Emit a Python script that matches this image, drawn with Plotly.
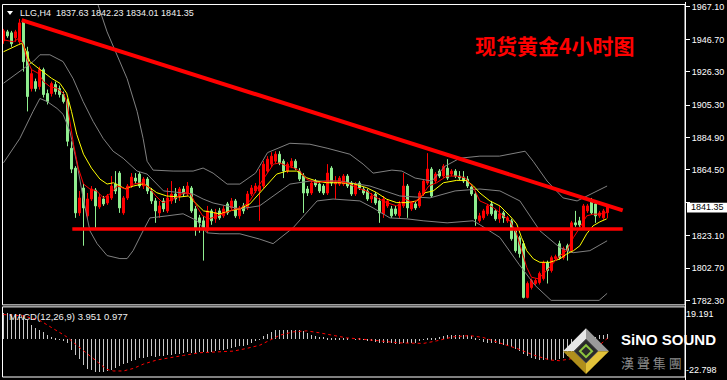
import plotly.graph_objects as go

# ---------------- data ----------------
candle_open = [1945.81, 1951.44, 1950.82, 1947.69, 1945.18, 1957.71, 1938.92, 1915.75, 1920.13, 1917.00,
               1927.65, 1912.62, 1912.62, 1918.25, 1915.75, 1911.99, 1907.61, 1878.18, 1865.66, 1837.47,
               1853.13, 1835.60, 1846.24, 1851.88, 1841.23, 1846.24, 1843.74, 1846.87, 1855.64, 1862.52,
               1837.47, 1846.87, 1854.38, 1859.39, 1861.90, 1854.38, 1858.77, 1851.25, 1844.99, 1837.47,
               1844.99, 1838.73, 1844.99, 1849.37, 1848.12, 1852.50, 1849.37, 1853.13, 1839.98, 1834.34,
               1832.47, 1826.20, 1838.73, 1833.72, 1838.73, 1835.60, 1843.11, 1840.61, 1844.99, 1835.60,
               1841.86, 1840.61, 1849.37, 1851.25, 1851.25, 1854.38, 1863.78, 1868.16, 1870.04, 1874.42,
               1870.04, 1863.78, 1866.91, 1870.04, 1863.78, 1860.65, 1852.50, 1850.00, 1857.51, 1855.64,
               1854.38, 1850.00, 1865.66, 1855.64, 1855.64, 1855.64, 1860.65, 1856.26, 1849.37, 1856.26,
               1852.50, 1851.25, 1846.24, 1849.37, 1844.99, 1836.85, 1841.86, 1839.98, 1839.98, 1835.60,
               1841.86, 1854.38, 1839.98, 1843.11, 1841.86, 1849.37, 1856.26, 1865.03, 1857.51, 1863.78,
               1860.65, 1865.66, 1861.90, 1863.78, 1860.65, 1860.02, 1858.77, 1853.76, 1849.37, 1832.47,
               1834.34, 1836.85, 1843.11, 1838.73, 1833.72, 1837.47, 1832.47, 1832.47, 1826.20, 1821.82,
               1818.06, 1784.24, 1790.51, 1793.01, 1793.64, 1796.15, 1806.17, 1801.16, 1808.67, 1818.06,
               1809.30, 1816.81, 1813.68, 1831.21, 1832.47, 1828.08, 1838.73, 1844.99, 1843.11, 1835.60,
               1834.34, 1837.63]
candle_high = [1953.32, 1952.70, 1952.07, 1952.70, 1959.58, 1958.96, 1942.05, 1928.27, 1922.01, 1929.53,
               1928.90, 1915.12, 1920.13, 1920.13, 1917.63, 1913.87, 1909.49, 1882.56, 1866.91, 1851.25,
               1855.64, 1850.00, 1854.38, 1853.13, 1849.37, 1848.12, 1849.37, 1860.65, 1863.78, 1863.78,
               1848.12, 1855.64, 1862.52, 1862.52, 1863.15, 1860.02, 1860.02, 1853.13, 1846.87, 1844.99,
               1846.87, 1853.13, 1857.51, 1853.13, 1853.76, 1854.38, 1856.89, 1854.38, 1841.86, 1836.22,
               1835.60, 1841.86, 1839.98, 1839.98, 1840.61, 1841.86, 1844.36, 1846.87, 1846.24, 1841.86,
               1843.74, 1851.25, 1855.01, 1856.26, 1865.03, 1870.04, 1873.17, 1875.67, 1876.30, 1876.30,
               1871.29, 1869.41, 1871.92, 1871.29, 1865.66, 1862.52, 1854.38, 1857.51, 1858.77, 1856.89,
               1855.64, 1868.16, 1866.91, 1860.65, 1860.65, 1861.90, 1861.90, 1857.51, 1856.89, 1857.51,
               1853.76, 1852.50, 1850.00, 1850.62, 1846.87, 1848.12, 1846.24, 1841.86, 1841.86, 1844.99,
               1862.52, 1855.64, 1844.99, 1844.36, 1851.25, 1858.77, 1875.05, 1866.28, 1863.15, 1865.03,
               1868.16, 1871.29, 1865.03, 1865.03, 1863.78, 1863.78, 1860.65, 1855.01, 1851.25, 1837.47,
               1839.98, 1843.11, 1844.99, 1839.98, 1841.86, 1838.73, 1835.60, 1833.72, 1827.46, 1823.07,
               1819.94, 1794.27, 1796.15, 1796.15, 1800.53, 1807.42, 1807.42, 1810.55, 1811.17, 1819.94,
               1816.18, 1818.06, 1832.47, 1838.73, 1834.97, 1843.11, 1843.11, 1846.87, 1844.99, 1838.73,
               1839.98, 1842.23]
candle_low = [1943.93, 1947.69, 1942.05, 1945.18, 1943.93, 1926.40, 1901.35, 1913.87, 1913.87, 1915.12,
              1910.11, 1905.73, 1910.74, 1911.99, 1910.11, 1906.36, 1879.43, 1862.52, 1834.34, 1835.60,
              1816.81, 1833.72, 1844.99, 1828.08, 1839.98, 1841.86, 1842.48, 1845.61, 1849.37, 1837.47,
              1836.22, 1845.61, 1853.13, 1855.64, 1853.13, 1852.50, 1849.37, 1843.11, 1831.21, 1834.34,
              1838.10, 1837.47, 1843.11, 1843.74, 1844.99, 1847.49, 1848.12, 1837.47, 1823.07, 1824.95,
              1807.42, 1824.95, 1829.96, 1831.21, 1833.09, 1834.34, 1836.22, 1839.35, 1834.34, 1833.72,
              1836.85, 1839.35, 1848.12, 1850.00, 1832.47, 1853.13, 1862.52, 1866.28, 1868.79, 1867.53,
              1859.39, 1862.52, 1865.66, 1864.40, 1857.51, 1837.47, 1848.12, 1848.75, 1853.76, 1850.00,
              1848.75, 1848.75, 1854.38, 1846.24, 1854.38, 1854.38, 1853.13, 1848.12, 1848.12, 1851.88,
              1848.75, 1844.99, 1843.74, 1842.48, 1831.21, 1834.34, 1840.61, 1834.34, 1835.60, 1833.72,
              1840.61, 1834.34, 1838.73, 1839.35, 1840.61, 1848.12, 1855.01, 1846.87, 1856.26, 1859.39,
              1859.39, 1858.14, 1860.65, 1859.39, 1858.14, 1856.26, 1853.13, 1848.12, 1829.33, 1831.21,
              1833.09, 1835.60, 1835.60, 1832.47, 1831.21, 1831.21, 1831.21, 1819.94, 1812.43, 1809.30,
              1783.62, 1783.62, 1789.26, 1791.76, 1792.39, 1794.89, 1793.01, 1799.90, 1807.42, 1808.04,
              1808.04, 1807.42, 1812.43, 1828.71, 1828.71, 1826.83, 1837.47, 1836.22, 1831.21, 1834.34,
              1833.09, 1834.01]
candle_close = [1952.07, 1948.94, 1943.93, 1951.44, 1957.08, 1932.66, 1910.74, 1925.14, 1915.75, 1927.65,
                1911.99, 1907.61, 1918.88, 1913.87, 1911.99, 1907.61, 1882.56, 1865.03, 1837.47, 1846.87,
                1840.61, 1846.24, 1852.50, 1841.86, 1847.49, 1843.11, 1848.12, 1854.38, 1851.25, 1840.61,
                1846.87, 1854.38, 1860.02, 1857.51, 1854.38, 1858.77, 1851.25, 1844.99, 1838.73, 1841.86,
                1839.98, 1846.87, 1849.37, 1846.24, 1852.50, 1849.37, 1854.38, 1838.73, 1828.08, 1831.21,
                1828.08, 1838.73, 1832.47, 1837.47, 1834.34, 1839.98, 1837.47, 1844.99, 1835.60, 1840.61,
                1838.73, 1849.37, 1853.13, 1854.38, 1854.38, 1868.16, 1871.29, 1873.17, 1874.42, 1868.79,
                1863.78, 1868.16, 1870.04, 1865.66, 1858.77, 1850.00, 1850.00, 1856.26, 1855.01, 1851.25,
                1850.00, 1862.52, 1856.26, 1856.89, 1859.39, 1860.65, 1854.38, 1849.37, 1855.64, 1853.13,
                1850.00, 1846.24, 1848.12, 1843.74, 1837.47, 1846.24, 1844.99, 1835.60, 1836.85, 1843.11,
                1854.38, 1840.61, 1843.74, 1840.61, 1850.00, 1857.51, 1865.03, 1848.12, 1861.90, 1860.65,
                1866.91, 1859.39, 1863.78, 1860.65, 1859.39, 1857.51, 1854.38, 1849.37, 1833.72, 1835.60,
                1838.73, 1841.86, 1836.85, 1833.72, 1836.85, 1834.34, 1834.34, 1821.19, 1813.68, 1811.80,
                1784.24, 1793.01, 1794.89, 1794.89, 1799.28, 1806.17, 1801.16, 1809.30, 1809.92, 1809.30,
                1814.93, 1813.68, 1831.21, 1829.96, 1829.96, 1841.86, 1841.86, 1837.47, 1835.60, 1837.47,
                1838.73, 1841.35]
candle_idx = list(range(len(candle_open)))

# fast moving average (red thin line), sampled along the bars
ma_fast_x = [0, 2.5, 4, 5, 5.8, 7, 8.7, 10, 11.6, 13.3, 15, 15.8, 16.6, 17.5, 18.7, 20, 21.6, 23.3, 25,
             26.6, 28.5, 30.5, 32.6, 34.7, 36.4, 38.1, 39.8, 41.4, 43.1, 45.1, 46.8, 48.5, 49.8, 51.4,
             53.5, 55.6, 58, 59.1, 61.6, 64.1, 65.8, 67.5, 69.1, 70.8, 72.5, 74.1, 75.8, 78.3, 80.8,
             83.3, 85.8, 88.3, 90.8, 93.3, 95.8, 98.3, 100.4, 102.5, 104.6, 106.3, 108.3, 110.8, 113.3,
             115.4, 117.5, 119.1, 120.8, 122.5, 125, 126.6, 128.3, 129.5, 130.8, 132, 133.7, 135.8,
             137.5, 139.1, 140.8, 142.5, 144.1, 145.8, 147.4, 149.1, 150.8]
ma_fast_y = [1946.43, 1945.18, 1947.69, 1943.30, 1934.72, 1927.65, 1925.33, 1920.13, 1917.00, 1915.94,
             1912.81, 1907.61, 1895.09, 1880.68, 1865.66, 1855.64, 1852.50, 1851.25, 1846.87, 1849.37,
             1854.38, 1852.50, 1855.64, 1856.45, 1853.32, 1848.12, 1843.92, 1844.99, 1847.06, 1850.19,
             1849.37, 1840.80, 1835.60, 1833.72, 1835.60, 1837.66, 1839.98, 1839.98, 1844.99, 1855.64,
             1861.90, 1868.16, 1868.97, 1866.91, 1865.84, 1863.78, 1858.58, 1856.45, 1857.51, 1857.51,
             1856.45, 1853.32, 1851.25, 1847.06, 1843.92, 1841.86, 1846.06, 1843.92, 1848.12, 1854.38,
             1856.45, 1860.65, 1860.65, 1859.58, 1853.32, 1844.99, 1843.11, 1840.80, 1835.60, 1832.47,
             1824.32, 1813.68, 1803.22, 1796.96, 1795.96, 1801.16, 1806.36, 1810.55, 1813.68, 1822.01,
             1828.27, 1835.60, 1836.66, 1836.66, 1837.66]

# slow moving average (yellow line)
ma_slow_x = [0, 1.6, 3.7, 4.5, 5.4, 6.6, 8.3, 10, 12, 14.1, 15.8, 17, 18.3, 20, 22, 24.1, 25.9, 27.5,
             30.4, 32.5, 35, 36.6, 38.3, 40.8, 44.1, 46.2, 48.3, 50, 52.5, 54.1, 56.6, 59.1, 61.6, 64.1,
             66.6, 68.3, 70.8, 73.3, 75.8, 78.3, 80.8, 84.1, 87.5, 90.8, 93.3, 95.8, 98.3, 100.8, 103.3,
             105.4, 107.4, 110, 113.3, 115.8, 117.5, 119.1, 121.6, 124.1, 126.6, 128.3, 129.5, 130.8,
             132.5, 134.1, 136.6, 139.1, 140.8, 142.5, 144.1, 145.8, 147.4, 149.1, 150.8]
ma_slow_y = [1938.92, 1940.99, 1943.30, 1944.12, 1940.99, 1932.66, 1929.53, 1926.40, 1922.20, 1919.07,
             1912.81, 1901.35, 1886.94, 1874.42, 1865.66, 1858.77, 1855.64, 1856.45, 1852.69, 1854.38,
             1855.82, 1853.32, 1850.19, 1848.12, 1847.49, 1848.12, 1843.11, 1838.73, 1837.66, 1836.85,
             1838.73, 1839.98, 1843.11, 1850.00, 1857.51, 1861.90, 1863.78, 1863.78, 1859.58, 1857.51,
             1856.45, 1856.45, 1855.82, 1853.32, 1850.19, 1846.06, 1843.92, 1843.92, 1844.99, 1850.19,
             1851.25, 1856.45, 1857.95, 1857.95, 1854.38, 1850.00, 1844.99, 1841.86, 1835.60, 1830.59,
             1822.01, 1813.68, 1808.48, 1806.36, 1806.36, 1808.48, 1811.61, 1813.68, 1816.81, 1824.32,
             1829.33, 1831.84, 1833.72]

# Bollinger bands (grey), sampled
bb_upper_x = [0, 10, 18, 23.4, 25.9, 28.4, 30.9, 33.4, 34.9, 35.9, 37.4, 42.4, 47.4, 49.9, 52.4, 55.9,
              59.1, 63, 66, 71.6, 76.6, 80.9, 86.6, 89.9, 92.4, 97.1, 99.6, 102.9, 107.1, 110.4, 114.1,
              119.1, 124, 130.4, 132.4, 135.9, 139.9, 143.4, 147.4, 150.9]
bb_upper_y = [1973.4, 1982.8, 1985.9, 1970.2, 1951.4, 1937.0, 1922.0, 1901.4, 1884.4, 1870.0, 1864.4,
              1863.8, 1863.8, 1865.7, 1862.5, 1855.6, 1855.6, 1862.5, 1875.4, 1881.3, 1880.7, 1878.2,
              1874.4, 1868.2, 1862.5, 1864.4, 1863.8, 1859.4, 1857.5, 1866.9, 1871.9, 1873.2, 1873.2,
              1876.3, 1870.0, 1857.5, 1846.9, 1845.0, 1850.0, 1854.4]
bb_mid_x = [0, 7.4, 9.1, 11.6, 14.9, 17.4, 19.9, 22.4, 24.9, 27.4, 29.9, 33.4, 35.9, 40, 47.4, 49.9,
            52.4, 55.9, 59.1, 64, 71.6, 76.6, 84.1, 91.6, 99.1, 106.6, 112.9, 119.1, 124.1, 129.1,
            134.1, 139.1, 142.4, 146.6, 150.9]
bb_mid_y = [1919.1, 1932.7, 1937.0, 1937.0, 1932.7, 1922.0, 1907.6, 1895.1, 1884.4, 1876.3, 1871.9,
            1863.8, 1861.9, 1851.3, 1849.4, 1846.2, 1843.7, 1841.9, 1840.0, 1841.9, 1855.6, 1857.5,
            1857.5, 1854.4, 1848.1, 1846.9, 1851.3, 1852.5, 1851.3, 1845.0, 1826.2, 1815.6, 1812.4,
            1813.7, 1819.9]
bb_lower_x = [0, 4.1, 7.4, 9.1, 10.9, 13.4, 14.9, 16.6, 18.4, 19.9, 21.6, 23.4, 25.9, 29.1, 30.9, 32.4,
              34.9, 36.6, 40.9, 44.9, 48.4, 50.9, 54.1, 59.1, 64, 67.4, 72.4, 78.4, 82.4, 89.1, 92.4,
              96.6, 100.9, 104.9, 110.9, 117.4, 119.1, 124.1, 128.9, 132.9, 136.9, 142.9, 148.9, 150.9]
bb_lower_y = [1869.0, 1884.4, 1901.4, 1909.5, 1907.6, 1903.2, 1899.5, 1888.8, 1868.2, 1846.9, 1826.2,
              1818.1, 1810.6, 1808.7, 1808.7, 1813.7, 1826.2, 1834.3, 1835.6, 1836.9, 1832.5, 1824.9,
              1824.3, 1824.3, 1821.0, 1818.1, 1828.1, 1845.0, 1846.2, 1845.0, 1840.6, 1834.3, 1833.7,
              1832.5, 1831.2, 1832.5, 1830.0, 1822.0, 1805.0, 1791.8, 1782.4, 1782.4, 1782.4, 1786.8]

# hand-drawn objects
trend_x = [4.55, 154.8]
trend_y = [1958.8, 1839.1]
support_x = [17.2, 154.8]
support_y = [1827.3, 1827.3]

# MACD(12,26,9): main values (histogram) and signal (dotted)
macd_main = [19.2, 19.0, 18.8, 18.5, 18.6, 18.0, 14.3, 10.6, 8.1, 6.9,
             5.2, 2.7, 1.5, 0.5, -0.3, -1.0, -2.9, -7.9, -11.5, -14.7,
             -18.9, -22.1, -23.1, -24.1, -24.6, -24.3, -23.6, -22.6, -21.1, -19.7,
             -18.7, -17.7, -16.2, -15.2, -14.3, -13.8, -13.3, -12.8, -13.3, -12.8,
             -12.3, -11.8, -11.8, -11.3, -10.8, -10.3, -9.8, -10.3, -10.3, -9.8,
             -9.3, -9.8, -9.3, -8.8, -8.4, -7.9, -7.1, -6.4, -5.9, -5.4,
             -4.9, -4.2, -2.9, -1.7, -0.5, 2.0, 3.9, 5.4, 6.4, 6.9,
             6.9, 6.6, 6.4, 6.9, 6.6, 5.7, 4.4, 3.2, 2.5, 1.5,
             1.5, 1.2, 1.0, 0.5, 0.5, 0.2, 0.2, 0.0, -0.2, 0.2,
             -0.5, -1.0, -1.5, -2.0, -2.5, -3.0, -3.0, -3.2, -3.7, -3.5,
             -2.5, -2.8, -3.0, -2.5, -1.5, -0.5, 0.2, 0.5, 0.7, 1.5,
             2.2, 2.7, 3.0, 3.2, 3.4, 3.2, 2.7, 2.2, 1.2, -0.5,
             -2.0, -2.7, -2.9, -3.2, -3.7, -4.2, -4.9, -5.9, -7.4, -8.8,
             -11.1, -12.8, -13.8, -14.7, -15.2, -15.5, -15.7, -15.5, -15.2, -14.7,
             -13.8, -12.8, -10.6, -8.4, -6.4, -4.2, -2.0, -0.2, 1.5, 2.7,
             3.2, 3.951]
macd_signal_x = [0, 5, 9, 12.5, 15.8, 18.3, 20.8, 23.3, 25.8, 27.5, 30, 32.5, 35, 38.3, 41.6, 45, 49,
                 53.3, 57.5, 60.8, 64.1, 66.6, 69.1, 72.5, 75.8, 79.1, 82.5, 85.8, 88.7, 90, 94, 99,
                 105, 108.3, 112.5, 116.6, 119.9, 124, 128.3, 132.5, 136.6, 139, 142.5, 145.8, 149, 151]
macd_signal_y = [18.5, 17.5, 14.3, 8.1, 2.0, -4.2, -10.3, -16.5, -22.1, -23.3, -23.3, -21.4, -18.2,
                 -15.2, -13.3, -11.8, -9.8, -9.3, -8.6, -6.6, -4.2, -0.5, 3.2, 5.7, 6.4, 4.9, 3.2, 1.2,
                 0.5, 0.2, -1.0, -2.5, -2.9, -1.0, 2.0, 2.9, 1.5, -2.5, -6.6, -11.5, -15.2, -15.7,
                 -14.0, -10.3, -4.2, 0.977]

price_ticks = [1967.10, 1946.70, 1926.30, 1905.30, 1884.90, 1864.50, 1843.80, 1823.10, 1802.70, 1782.30]
price_tick_labels = ["1967.10", "1946.70", "1926.30", "1905.30", "1884.90", "1864.50", "",
                     "1823.10", "1802.70", "1782.30"]
macd_ticks = [19.191, -22.798]
last_price = 1841.35
header_text = "LLG,H4  1837.63 1842.23 1834.01 1841.35"
macd_text = "MACD(12,26,9) 3.951 0.977"
title_text = "现货黄金4小时图"

# ---------------- layout geometry ----------------
W, H = 727, 380
L, R, T, B = 2, 685, 2, 377          # plot area in pixels
MAIN_BOTTOM, SUB_TOP = 305, 307


def px(x):
    return (x - L) / (R - L)


def py(y):
    return (B - y) / (B - T)


GREEN = "#90EE90"
RED = "#FF0000"
GREY = "#808080"

fig = go.Figure()

for bx, by in ((bb_upper_x, bb_upper_y), (bb_mid_x, bb_mid_y), (bb_lower_x, bb_lower_y)):
    fig.add_trace(go.Scatter(x=bx, y=by, mode="lines", line=dict(color=GREY, width=1),
                             xaxis="x", yaxis="y", hoverinfo="skip"))

fig.add_trace(go.Candlestick(
    x=candle_idx, open=candle_open, high=candle_high, low=candle_low, close=candle_close,
    increasing=dict(line=dict(color=RED, width=1), fillcolor=RED),
    decreasing=dict(line=dict(color=GREEN, width=1), fillcolor=GREEN),
    whiskerwidth=0, xaxis="x", yaxis="y", hoverinfo="skip"))

fig.add_trace(go.Scatter(x=ma_slow_x, y=ma_slow_y, mode="lines", line=dict(color="#FFFF00", width=1),
                         xaxis="x", yaxis="y", hoverinfo="skip"))
fig.add_trace(go.Scatter(x=ma_fast_x, y=ma_fast_y, mode="lines", line=dict(color=RED, width=1),
                         xaxis="x", yaxis="y", hoverinfo="skip"))

fig.add_trace(go.Scatter(x=trend_x, y=trend_y, mode="lines", line=dict(color=RED, width=4),
                         xaxis="x", yaxis="y", hoverinfo="skip"))
fig.add_trace(go.Scatter(x=support_x, y=support_y, mode="lines", line=dict(color=RED, width=3.5),
                         xaxis="x", yaxis="y", hoverinfo="skip"))

# MACD
fig.add_trace(go.Bar(x=candle_idx, y=macd_main, width=0.25, marker=dict(color="#C8C8C8", line=dict(width=0)),
                     xaxis="x2", yaxis="y2", hoverinfo="skip"))
fig.add_trace(go.Scatter(x=macd_signal_x, y=macd_signal_y, mode="lines",
                         line=dict(color=RED, width=1, dash="dot"), xaxis="x2", yaxis="y2",
                         hoverinfo="skip"))

xr = [(L - 3.5) / 4, (R - 3.5) / 4]
main_lo = 1970.23 - 0.6262 * MAIN_BOTTOM
main_hi = 1970.23 - 0.6262 * T
sub_hi = (339.3 - SUB_TOP) / 1.357
sub_lo = -(B - 339.3) / 1.357

axis_font = dict(family="Liberation Sans, Arial, sans-serif", size=9, color="#FFFFFF")

fig.update_layout(
    width=W, height=H, margin=dict(l=L, r=W - R, t=T, b=H - B),
    paper_bgcolor="#000000", plot_bgcolor="#000000", showlegend=False, hovermode=False,
    bargap=0,
    xaxis=dict(domain=[0, 1], range=xr, anchor="y", visible=False, rangeslider=dict(visible=False),
               fixedrange=True),
    xaxis2=dict(domain=[0, 1], range=xr, anchor="y2", visible=False, matches="x", fixedrange=True),
    yaxis=dict(domain=[py(MAIN_BOTTOM), 1], range=[main_lo, main_hi], side="right", anchor="x",
               showgrid=False, zeroline=False, showline=False, ticks="outside", ticklen=4,
               tickcolor="#FFFFFF", tickwidth=1, tickvals=price_ticks,
               ticktext=price_tick_labels, tickfont=axis_font),
    yaxis2=dict(domain=[0, py(SUB_TOP)], range=[sub_lo, sub_hi], side="right", anchor="x2",
                showgrid=False, zeroline=False, showline=False, ticks="",
                tickvals=macd_ticks, ticktext=[f"{v:.3f}" for v in macd_ticks], tickfont=axis_font),
)

shapes = []
# panel frames
shapes.append(dict(type="rect", xref="paper", yref="paper", x0=px(2.5), x1=px(685), y0=py(304.5), y1=py(2.5),
                   line=dict(color="#FFFFFF", width=1)))
shapes.append(dict(type="rect", xref="paper", yref="paper", x0=px(2.5), x1=px(685), y0=py(377), y1=py(306.5),
                   line=dict(color="#FFFFFF", width=1)))
shapes.append(dict(type="line", xref="paper", yref="paper", x0=px(685.5), x1=px(685.5), y0=py(380), y1=py(0),
                   line=dict(color="#FFFFFF", width=1)))
# header triangle
shapes.append(dict(type="path", xref="paper", yref="paper",
                   path=f"M {px(7)},{py(9)} L {px(13)},{py(9)} L {px(10)},{py(13)} Z",
                   fillcolor="#FFFFFF", line=dict(width=0)))


# logo diamond
def pth(points):
    return "M " + " L ".join(f"{px(a)},{py(b)}" for a, b in points) + " Z"


cx, cy, r = 586, 351, 23
shapes.append(dict(type="path", xref="paper", yref="paper", path=pth([(cx - r, cy), (cx, cy - r), (cx, cy)]),
                   fillcolor="#E6E6E6", line=dict(width=0)))
shapes.append(dict(type="path", xref="paper", yref="paper", path=pth([(cx, cy - r), (cx + r, cy), (cx, cy)]),
                   fillcolor="#9A9A9A", line=dict(width=0)))
shapes.append(dict(type="path", xref="paper", yref="paper", path=pth([(cx - r, cy), (cx, cy + r), (cx, cy)]),
                   fillcolor="#B08F1C", line=dict(width=0)))
shapes.append(dict(type="path", xref="paper", yref="paper", path=pth([(cx + r, cy), (cx, cy + r), (cx, cy)]),
                   fillcolor="#E2C23A", line=dict(width=0)))
ri = 12
shapes.append(dict(type="path", xref="paper", yref="paper",
                   path=pth([(cx, cy - ri), (cx + ri, cy), (cx, cy + ri), (cx - ri, cy)]),
                   fillcolor="#2A2A2A", line=dict(color="#555555", width=1)))
rg = 6
shapes.append(dict(type="path", xref="paper", yref="paper",
                   path=pth([(cx, cy - rg), (cx + rg, cy), (cx, cy + rg), (cx - rg, cy)]),
                   fillcolor="rgba(0,0,0,0)", line=dict(color="#8DC63F", width=2)))
# current price box
shapes.append(dict(type="rect", xref="paper", yref="paper", x0=px(687), x1=px(727), y0=py(211.7), y1=py(201.7),
                   fillcolor="#FFFFFF", line=dict(width=0), layer="above"))
fig.update_layout(shapes=shapes)

ann = []
ann.append(dict(xref="paper", yref="paper", x=px(18), y=py(11), xanchor="left", yanchor="middle",
                text=header_text, showarrow=False,
                font=dict(family="Liberation Sans, Arial, sans-serif", size=9, color="#F0F0F0")))
ann.append(dict(xref="paper", yref="paper", x=px(7), y=py(316), xanchor="left", yanchor="middle",
                text=macd_text, showarrow=False,
                font=dict(family="Liberation Sans, Arial, sans-serif", size=9.5, color="#F0F0F0")))
ann.append(dict(xref="paper", yref="paper", x=px(473), y=py(43), xanchor="left", yanchor="middle",
                text=f"<b>{title_text}</b>", showarrow=False,
                font=dict(family="Noto Sans CJK SC", size=21, color=RED)))
ann.append(dict(xref="paper", yref="y", x=px(707), y=last_price, xanchor="center", yanchor="middle",
                text=f"{last_price:.2f}", showarrow=False,
                font=dict(family="Liberation Sans, Arial, sans-serif", size=9, color="#000000")))
ann.append(dict(xref="paper", yref="paper", x=px(668), y=py(339.5), xanchor="center", yanchor="middle",
                text="<b>SiNO SOUND</b>", showarrow=False,
                font=dict(family="Liberation Sans, Arial, sans-serif", size=15, color="#FFFFFF")))
ann.append(dict(xref="paper", yref="paper", x=px(651), y=py(362), xanchor="center", yanchor="middle",
                text="漢 聲 集 團", showarrow=False,
                font=dict(family="Noto Sans CJK TC", size=13, color="#8A8A8A")))
fig.update_layout(annotations=ann)

fig.write_html("out.html")
